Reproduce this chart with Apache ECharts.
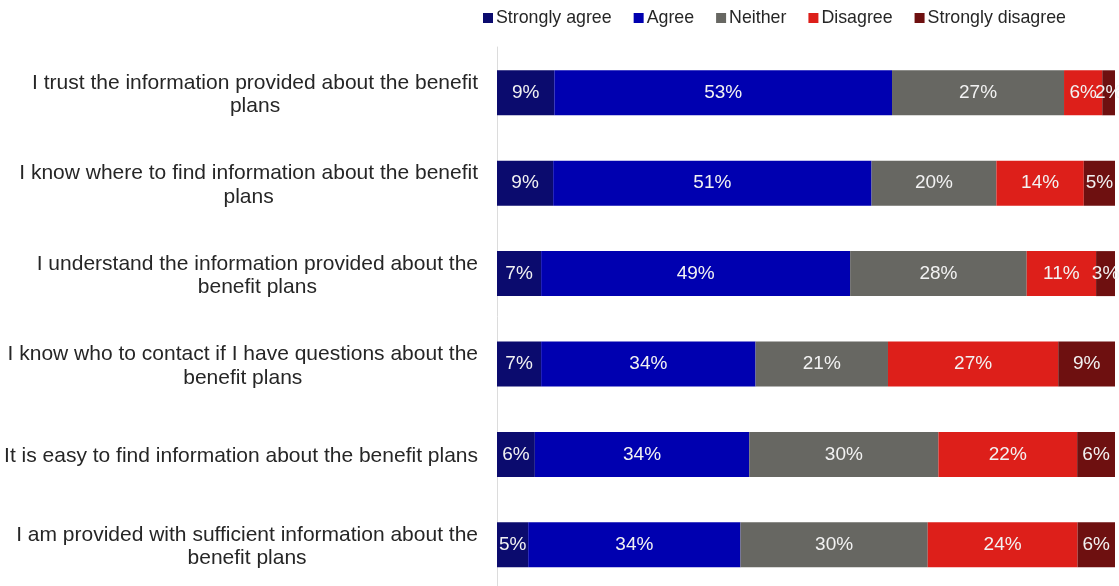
<!DOCTYPE html>
<html>
<head>
<meta charset="utf-8">
<script src="https://cdn.jsdelivr.net/npm/echarts@6/dist/echarts.min.js"></script>
<style>
  html, body { margin: 0; padding: 0; background: #ffffff; }
  #chart { width: 1119px; height: 586px; }
</style>
</head>
<body>
<div id="chart"></div>
<script>
// Survey statements, top to bottom
const categories = [
  'I trust the information provided about the benefit plans',
  'I know where to find information about the benefit plans',
  'I understand the information provided about the benefit plans',
  'I know who to contact if I have questions about the benefit plans',
  'It is easy to find information about the benefit plans',
  'I am provided with sufficient information about the benefit plans'
];

// Response shares (%) per statement
const seriesNames = ['Strongly agree', 'Agree', 'Neither', 'Disagree', 'Strongly disagree'];
const stronglyAgree    = [9, 9, 7, 7, 6, 5];
const agree            = [53, 51, 49, 34, 34, 34];
const neither          = [27, 20, 28, 21, 30, 30];
const disagree         = [6, 14, 11, 27, 22, 24];
const stronglyDisagree = [2, 5, 3, 9, 6, 6];

const colors = ['#0b0b6e', '#0000b0', '#676762', '#dd1f1a', '#6e1010'];
const FONT = '"Liberation Sans", Arial, sans-serif';

const valueSets = [stronglyAgree, agree, neither, disagree, stronglyDisagree];

// Wrap a statement into lines no wider than maxW pixels
const measureCtx = document.createElement('canvas').getContext('2d');
measureCtx.font = '21px "Liberation Sans"';
function wrap(text, maxW) {
  const words = text.split(' ');
  const lines = [];
  let cur = '';
  words.forEach(w => {
    const test = cur ? cur + ' ' + w : w;
    if (cur && measureCtx.measureText(test).width > maxW) {
      lines.push(cur);
      cur = w;
    } else {
      cur = test;
    }
  });
  if (cur) lines.push(cur);
  return lines;
}

const chart = echarts.init(document.getElementById('chart'), null, { renderer: 'canvas' });

const firstCenter = 92.8;   // centre of the first bar band
const rowStep = 90.4;       // distance between bar centres
const bandHalf = 41;        // half height of each row's grid
const grids = [], xAxes = [], yAxes = [], series = [];

categories.forEach((cat, i) => {
  // each statement gets its own grid so its bar spans the full width
  const total = valueSets.reduce((s, arr) => s + arr[i], 0);
  const center = firstCenter + rowStep * i;
  grids.push({ left: 497, right: 4, top: center - bandHalf, height: bandHalf * 2 });
  xAxes.push({ type: 'value', gridIndex: i, min: 0, max: total, show: false });
  yAxes.push({
    type: 'category', gridIndex: i, data: [cat],
    axisLine: { show: false },
    axisTick: { show: false },
    axisLabel: {
      margin: 19,
      align: 'right',
      padding: [4, 0, 0, 0],
      formatter: v => wrap(v, 482).map(l => '{c|' + l + '}').join('\n'),
      rich: {
        c: { align: 'center', fontSize: 21, lineHeight: 23.5, fontFamily: FONT, color: '#262626' }
      }
    }
  });
  seriesNames.forEach((name, k) => {
    series.push({
      name: name,
      type: 'bar',
      stack: 'row' + i,
      xAxisIndex: i,
      yAxisIndex: i,
      barWidth: 45,
      itemStyle: { color: colors[k] },
      label: {
        show: true,
        position: 'inside',
        formatter: p => p.value + '%',
        color: '#f2f2f2',
        fontSize: 19,
        fontFamily: FONT
      },
      emphasis: { disabled: true },
      data: [valueSets[k][i]]
    });
  });
});

// full-height grid that only carries the continuous vertical axis line
const lineGrid = categories.length;
grids.push({ left: 497, right: 4, top: 47, bottom: 0 });
xAxes.push({ type: 'value', gridIndex: lineGrid, min: 0, max: 1, show: false });
yAxes.push({
  type: 'value', gridIndex: lineGrid, min: 0, max: 1,
  axisLine: { show: true, lineStyle: { color: '#dcdcdc', width: 1 } },
  axisTick: { show: false },
  axisLabel: { show: false },
  splitLine: { show: false }
});

chart.setOption({
  animation: false,
  backgroundColor: '#ffffff',
  legend: {
    data: seriesNames,
    left: 478,
    top: 4,
    icon: 'rect',
    itemWidth: 10,
    itemHeight: 10,
    itemGap: 22,
    textStyle: { fontSize: 17.8, color: '#262626', fontFamily: FONT, padding: [0, 0, 0, -2] }
  },
  grid: grids,
  xAxis: xAxes,
  yAxis: yAxes,
  series: series
});
</script>
</body>
</html>
